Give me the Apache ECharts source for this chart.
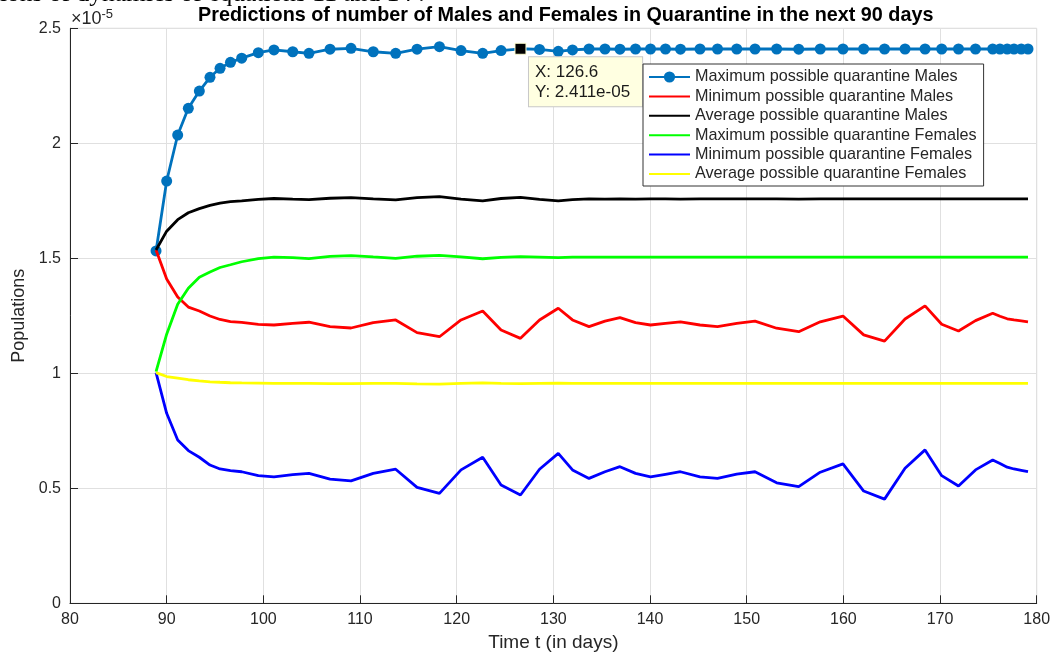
<!DOCTYPE html>
<html><head><meta charset="utf-8">
<script src="https://cdn.jsdelivr.net/npm/echarts@6/dist/echarts.min.js"></script>
<style>html,body{margin:0;padding:0;background:#fff}#c{width:1053px;height:654px}</style>
</head><body><div id="c"></div><script>
// values in units of 1e-5
const timeDays = [88.9, 90.0, 91.14, 92.24, 93.38, 94.48, 95.52, 96.6, 97.76, 99.48,
  101.1, 103.04, 104.72, 106.9, 109.07, 111.37, 113.69, 115.9, 118.22, 120.45,
  122.69, 124.59, 126.6, 128.57, 130.51, 131.98, 133.69, 135.34, 136.89, 138.5,
  140.05, 141.6, 143.15, 145.17, 146.98, 148.97, 150.86, 153.1, 155.38, 157.61,
  159.96, 162.1, 164.26, 166.38, 168.45, 170.17, 171.91, 173.67, 175.45, 176.2,
  176.95, 177.65, 178.4, 179.1];
const maxMales = [1.532, 1.836, 2.036, 2.152, 2.227, 2.287, 2.326, 2.352, 2.370, 2.394,
  2.406, 2.398, 2.391, 2.409, 2.413, 2.398, 2.391, 2.409, 2.420, 2.403,
  2.391, 2.403, 2.411, 2.408, 2.400, 2.406, 2.410, 2.410, 2.409, 2.410,
  2.410, 2.410, 2.409, 2.410, 2.410, 2.410, 2.410, 2.410, 2.409, 2.410,
  2.410, 2.410, 2.410, 2.410, 2.410, 2.410, 2.410, 2.410, 2.410, 2.410,
  2.410, 2.410, 2.410, 2.410];
const minMales = [1.536, 1.41, 1.332, 1.288, 1.271, 1.249, 1.234, 1.225, 1.221, 1.213,
  1.210, 1.217, 1.222, 1.203, 1.197, 1.220, 1.232, 1.177, 1.159, 1.232,
  1.271, 1.188, 1.152, 1.232, 1.283, 1.232, 1.203, 1.227, 1.242, 1.220,
  1.210, 1.217, 1.224, 1.210, 1.203, 1.217, 1.227, 1.196, 1.181, 1.224,
  1.249, 1.167, 1.140, 1.236, 1.293, 1.213, 1.184, 1.229, 1.261, 1.248,
  1.237, 1.232, 1.228, 1.224];
const avgMales = [1.536, 1.618, 1.668, 1.698, 1.716, 1.730, 1.740, 1.746, 1.750, 1.756,
  1.760, 1.757, 1.755, 1.761, 1.764, 1.758, 1.754, 1.764, 1.768, 1.757,
  1.750, 1.760, 1.765, 1.756, 1.750, 1.755, 1.758, 1.757, 1.758, 1.757,
  1.758, 1.758, 1.757, 1.758, 1.758, 1.758, 1.758, 1.758, 1.757, 1.758,
  1.758, 1.758, 1.758, 1.758, 1.758, 1.758, 1.758, 1.758, 1.758, 1.758,
  1.758, 1.758, 1.758, 1.758];
const maxFemales = [1.007, 1.17, 1.30, 1.37, 1.418, 1.44, 1.46, 1.472, 1.485, 1.499,
  1.505, 1.503, 1.499, 1.508, 1.512, 1.506, 1.500, 1.509, 1.513, 1.506,
  1.498, 1.504, 1.507, 1.505, 1.503, 1.505, 1.505, 1.505, 1.505, 1.505,
  1.505, 1.505, 1.505, 1.505, 1.505, 1.505, 1.505, 1.505, 1.505, 1.505,
  1.505, 1.505, 1.505, 1.505, 1.505, 1.505, 1.505, 1.505, 1.505, 1.505,
  1.505, 1.505, 1.505, 1.505];
const minFemales = [1.003, 0.826, 0.710, 0.664, 0.635, 0.601, 0.584, 0.577, 0.572, 0.555,
  0.550, 0.559, 0.565, 0.540, 0.532, 0.565, 0.583, 0.504, 0.478, 0.580,
  0.635, 0.514, 0.471, 0.583, 0.652, 0.580, 0.543, 0.572, 0.594, 0.565,
  0.550, 0.561, 0.572, 0.550, 0.543, 0.562, 0.572, 0.524, 0.507, 0.570,
  0.606, 0.488, 0.453, 0.587, 0.667, 0.555, 0.510, 0.580, 0.623, 0.608,
  0.592, 0.584, 0.578, 0.572];
const avgFemales = [1.003, 0.986, 0.979, 0.972, 0.967, 0.963, 0.961, 0.959, 0.958, 0.957,
  0.956, 0.956, 0.956, 0.955, 0.955, 0.956, 0.956, 0.954, 0.953, 0.956,
  0.958, 0.956, 0.955, 0.956, 0.957, 0.956, 0.956, 0.956, 0.956, 0.956,
  0.956, 0.956, 0.956, 0.956, 0.956, 0.956, 0.956, 0.956, 0.956, 0.956,
  0.956, 0.956, 0.956, 0.956, 0.956, 0.956, 0.956, 0.956, 0.956, 0.956,
  0.956, 0.956, 0.956, 0.956];
const seriesNames = ['Maximum possible quarantine Males', 'Minimum possible quarantine Males',
  'Average possible quarantine Males', 'Maximum possible quarantine Females',
  'Minimum possible quarantine Females', 'Average possible quarantine Females'];
const xTicks = [80, 90, 100, 110, 120, 130, 140, 150, 160, 170, 180];
const yTicks = [0, 0.5, 1, 1.5, 2, 2.5];
const yExponent = '-5';
const tipX = 126.6, tipYLabel = '2.411e-05', tipY = 2.411;
const titleText = 'Predictions of number of Males and Females in Quarantine in the next 90 days';
const clippedText = 'ions of dynamics of equations 11 and 14 .';

const FONT = 'Liberation Sans, Arial, sans-serif';
const AX = '#262626';
const colors = ['#0072BD', '#ff0000', '#000000', '#00ff00', '#0000ff', '#ffff00'];
const values = [maxMales, minMales, avgMales, maxFemales, minFemales, avgFemales];
const pairs = arr => timeDays.map((t, i) => [t, arr[i]]);

const series = values.map((arr, k) => {
  const s = {
    name: seriesNames[k], type: 'line', data: pairs(arr),
    lineStyle: { color: colors[k], width: 2.8 },
    itemStyle: { color: colors[k] },
    symbol: 'none', animation: false, z: 2 + k
  };
  if (k === 0) {
    s.symbol = 'circle'; s.symbolSize = 11; s.showSymbol = true;
    s.markPoint = {
      symbol: 'rect', symbolSize: 11, z: 20,
      itemStyle: { color: '#000', borderColor: '#ffffd0', borderWidth: 1 },
      label: {
        show: true, position: [14.5, 14.5], align: 'left', verticalAlign: 'top',
        formatter: 'X: ' + tipX + '\nY: ' + tipYLabel,
        color: '#1a1a1a', fontFamily: FONT, fontSize: 17, lineHeight: 20,
        backgroundColor: '#ffffe1', borderColor: '#c8c8c8', borderWidth: 1,
        padding: [5, 12, 4, 6]
      },
      data: [{ coord: [tipX, tipY] }]
    };
  }
  return s;
});

const legendData = seriesNames.map((n, k) => k === 0 ? { name: n } :
  { name: n, itemStyle: { color: 'rgba(0,0,0,0)', borderWidth: 0, opacity: 0 } });

const chart = echarts.init(document.getElementById('c'), null, { renderer: 'canvas' });
chart.setOption({
  animation: false,
  backgroundColor: '#fff',
  title: {
    text: titleText, left: 193, top: 1,
    textStyle: { fontFamily: FONT, fontSize: 19.8, fontWeight: 'bold', color: '#000' }
  },
  grid: { left: 70, right: 16.3, top: 28.3, bottom: 50.7, containLabel: false, outerBoundsMode: 'none',
    show: true, borderColor: '#d6d6d6', borderWidth: 1 },
  legend: {
    orient: 'vertical', left: 643, top: 64,
    data: legendData,
    itemWidth: 41, itemHeight: 14, itemGap: 3.4, itemTextGap: 5,
    padding: [5, 7, 4, 5],
    backgroundColor: '#fff', borderColor: '#333', borderWidth: 1,
    textStyle: { fontFamily: FONT, fontSize: 16.2, color: AX, lineHeight: 16 },
    z: 30
  },
  xAxis: {
    type: 'value', min: xTicks[0], max: xTicks[xTicks.length - 1], interval: xTicks[1] - xTicks[0],
    name: 'Time t (in days)', nameLocation: 'middle', nameGap: 30,
    nameTextStyle: { fontFamily: FONT, fontSize: 19, color: AX },
    axisLine: { show: true, lineStyle: { color: AX, width: 1 } },
    axisTick: { show: true, inside: true, length: 8, lineStyle: { color: AX } },
    axisLabel: { fontFamily: FONT, fontSize: 16, color: AX, margin: 8 },
    splitLine: { show: true, lineStyle: { color: '#e0e0e0', width: 1 } }
  },
  yAxis: {
    type: 'value', min: yTicks[0], max: yTicks[yTicks.length - 1], interval: yTicks[1] - yTicks[0],
    name: 'Populations', nameLocation: 'middle', nameGap: 41, nameRotate: 90,
    nameTextStyle: { fontFamily: FONT, fontSize: 18, color: AX },
    axisLine: { show: true, lineStyle: { color: AX, width: 1 } },
    axisTick: { show: true, inside: true, length: 8, lineStyle: { color: AX } },
    axisLabel: { fontFamily: FONT, fontSize: 16, color: AX, margin: 9, formatter: v => String(v) },
    splitLine: { show: true, lineStyle: { color: '#e0e0e0', width: 1 } }
  },
  graphic: [
    { type: 'text', left: 71, top: 8, z: 10,
      style: { text: '{a|×10}{b|' + yExponent + '}', rich: {
        a: { fontFamily: FONT, fontSize: 18, fill: AX, verticalAlign: 'bottom', lineHeight: 20 },
        b: { fontFamily: FONT, fontSize: 13, fill: AX, verticalAlign: 'top', lineHeight: 20 } } } },
    { type: 'text', x: 0, y: -6, z: 10,
      style: { text: clippedText, fontFamily: 'Liberation Serif, Times New Roman, serif', fontSize: 25.5,
        fill: '#000', verticalAlign: 'middle', align: 'left' } }
  ],
  series: series
});
</script></body></html>
